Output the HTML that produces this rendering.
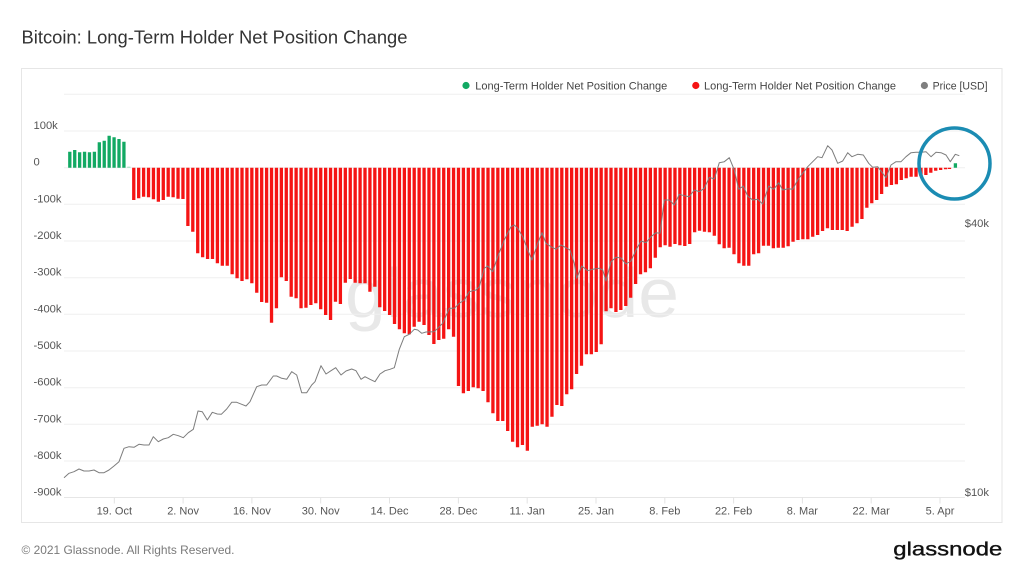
<!DOCTYPE html>
<html>
<head>
<meta charset="utf-8">
<style>
html,body{margin:0;padding:0;background:#fff;}
body{width:1024px;height:576px;overflow:hidden;}
svg{display:block;font-family:"Liberation Sans",sans-serif;}
</style>
</head>
<body>
<svg width="1024" height="576" viewBox="0 0 1024 576" xmlns="http://www.w3.org/2000/svg">
<rect x="0" y="0" width="1024" height="576" fill="#ffffff"/>
<text x="21.5" y="43.3" font-size="18" fill="#333333" textLength="386" lengthAdjust="spacingAndGlyphs">Bitcoin: Long-Term Holder Net Position Change</text>
<rect x="21.5" y="68.5" width="980.5" height="454" fill="#ffffff" stroke="#e6e6e6" stroke-width="1"/>

<!-- legend -->
<circle cx="466" cy="85.5" r="3.6" fill="#12a963"/>
<text x="475.3" y="89.3" font-size="11" fill="#444" textLength="192" lengthAdjust="spacingAndGlyphs">Long-Term Holder Net Position Change</text>
<circle cx="695.8" cy="85.5" r="3.6" fill="#f51414"/>
<text x="704" y="89.3" font-size="11" fill="#444" textLength="192" lengthAdjust="spacingAndGlyphs">Long-Term Holder Net Position Change</text>
<circle cx="924.4" cy="85.5" r="3.6" fill="#7f7f7f"/>
<text x="932.6" y="89.3" font-size="11" fill="#444" textLength="55" lengthAdjust="spacingAndGlyphs">Price [USD]</text>

<!-- watermark -->
<text x="345" y="317" font-size="70" fill="#e8e8e8" textLength="334" lengthAdjust="spacingAndGlyphs">glassnode</text>

<!-- gridlines -->
<g stroke="#efefef" stroke-width="1">
<line x1="64" y1="94.3" x2="965" y2="94.3"/>
<line x1="64" y1="131" x2="965" y2="131"/>
<line x1="64" y1="167.7" x2="965" y2="167.7"/>
<line x1="64" y1="204.3" x2="965" y2="204.3"/>
<line x1="64" y1="241" x2="965" y2="241"/>
<line x1="64" y1="277.7" x2="965" y2="277.7"/>
<line x1="64" y1="314.3" x2="965" y2="314.3"/>
<line x1="64" y1="351" x2="965" y2="351"/>
<line x1="64" y1="387.7" x2="965" y2="387.7"/>
<line x1="64" y1="424.3" x2="965" y2="424.3"/>
<line x1="64" y1="461" x2="965" y2="461"/>
</g>
<line x1="64" y1="497.5" x2="965" y2="497.5" stroke="#e6e6e6" stroke-width="1"/>
<g stroke="#e3e3e3" stroke-width="1">
<line x1="114.3" y1="497.5" x2="114.3" y2="503.5"/>
<line x1="183.1" y1="497.5" x2="183.1" y2="503.5"/>
<line x1="251.9" y1="497.5" x2="251.9" y2="503.5"/>
<line x1="320.7" y1="497.5" x2="320.7" y2="503.5"/>
<line x1="389.5" y1="497.5" x2="389.5" y2="503.5"/>
<line x1="458.4" y1="497.5" x2="458.4" y2="503.5"/>
<line x1="527.2" y1="497.5" x2="527.2" y2="503.5"/>
<line x1="596" y1="497.5" x2="596" y2="503.5"/>
<line x1="664.8" y1="497.5" x2="664.8" y2="503.5"/>
<line x1="733.6" y1="497.5" x2="733.6" y2="503.5"/>
<line x1="802.4" y1="497.5" x2="802.4" y2="503.5"/>
<line x1="871.2" y1="497.5" x2="871.2" y2="503.5"/>
<line x1="940" y1="497.5" x2="940" y2="503.5"/>
</g>

<!-- y labels -->
<g font-size="11.2" fill="#555">
<text x="33.5" y="129">100k</text>
<text x="33.5" y="165.7">0</text>
<text x="33.5" y="202.3">-100k</text>
<text x="33.5" y="239">-200k</text>
<text x="33.5" y="275.7">-300k</text>
<text x="33.5" y="312.3">-400k</text>
<text x="33.5" y="349">-500k</text>
<text x="33.5" y="385.7">-600k</text>
<text x="33.5" y="422.3">-700k</text>
<text x="33.5" y="459">-800k</text>
<text x="33.5" y="495.7">-900k</text>
</g>
<g font-size="11.2" fill="#555" text-anchor="end">
<text x="989" y="227">$40k</text>
<text x="989" y="496">$10k</text>
</g>
<!-- x labels -->
<g font-size="11" fill="#555" text-anchor="middle">
<text x="114.3" y="514.5">19. Oct</text>
<text x="183.1" y="514.5">2. Nov</text>
<text x="251.9" y="514.5">16. Nov</text>
<text x="320.7" y="514.5">30. Nov</text>
<text x="389.5" y="514.5">14. Dec</text>
<text x="458.4" y="514.5">28. Dec</text>
<text x="527.2" y="514.5">11. Jan</text>
<text x="596" y="514.5">25. Jan</text>
<text x="664.8" y="514.5">8. Feb</text>
<text x="733.6" y="514.5">22. Feb</text>
<text x="802.4" y="514.5">8. Mar</text>
<text x="871.2" y="514.5">22. Mar</text>
<text x="940" y="514.5">5. Apr</text>
</g>

<!-- green bars -->
<path fill="#12a963" d="M68.15 167.7V151.7h3.3V167.7z M73.07 167.7V150h3.3V167.7z M77.99 167.7V152.3h3.3V167.7z M82.91 167.7V151.7h3.3V167.7z M87.83 167.7V152.3h3.3V167.7z M92.75 167.7V151.7h3.3V167.7z M97.67 167.7V142.3h3.3V167.7z M102.59 167.7V140.7h3.3V167.7z M107.51 167.7V135.7h3.3V167.7z M112.43 167.7V137.3h3.3V167.7z M117.35 167.7V139h3.3V167.7z M122.27 167.7V141.7h3.3V167.7z M953.75 167.7V163.3h3.3V167.7z"/>
<path fill="#9fdcbd" d="M127.19 167.7V166.7h3.3V167.7z"/>

<!-- red bars -->
<path fill="#f51414" d="
M132.11 167.7V200h3.3V167.7z
M137.03 167.7V198.3h3.3V167.7z
M141.95 167.7V196.7h3.3V167.7z
M146.87 167.7V197.3h3.3V167.7z
M151.79 167.7V199.3h3.3V167.7z
M156.71 167.7V201.7h3.3V167.7z
M161.63 167.7V200h3.3V167.7z
M166.55 167.7V196.7h3.3V167.7z
M171.47 167.7V197.3h3.3V167.7z
M176.39 167.7V198.7h3.3V167.7z
M181.31 167.7V199h3.3V167.7z
M186.23 167.7V226h3.3V167.7z
M191.15 167.7V231.7h3.3V167.7z
M196.07 167.7V253.3h3.3V167.7z
M200.99 167.7V257.3h3.3V167.7z
M205.91 167.7V259h3.3V167.7z
M210.83 167.7V259h3.3V167.7z
M215.75 167.7V263.3h3.3V167.7z
M220.67 167.7V265.7h3.3V167.7z
M225.59 167.7V265.7h3.3V167.7z
M230.51 167.7V274.3h3.3V167.7z
M235.43 167.7V278.3h3.3V167.7z
M240.35 167.7V281h3.3V167.7z
M245.27 167.7V279.3h3.3V167.7z
M250.19 167.7V283.3h3.3V167.7z
M255.11 167.7V292.7h3.3V167.7z
M260.03 167.7V302h3.3V167.7z
M264.95 167.7V302.7h3.3V167.7z
M269.87 167.7V322.7h3.3V167.7z
M274.79 167.7V308.3h3.3V167.7z
M279.71 167.7V277.3h3.3V167.7z
M284.63 167.7V281h3.3V167.7z
M289.55 167.7V296.7h3.3V167.7z
M294.47 167.7V298.3h3.3V167.7z
M299.39 167.7V308.3h3.3V167.7z
M304.31 167.7V307.7h3.3V167.7z
M309.23 167.7V305h3.3V167.7z
M314.15 167.7V303.3h3.3V167.7z
M319.07 167.7V309.3h3.3V167.7z
M323.99 167.7V315h3.3V167.7z
M328.91 167.7V320h3.3V167.7z
M333.83 167.7V301.7h3.3V167.7z
M338.75 167.7V304h3.3V167.7z
M343.67 167.7V282.7h3.3V167.7z
M348.59 167.7V279h3.3V167.7z
M353.51 167.7V282.7h3.3V167.7z
M358.43 167.7V283.3h3.3V167.7z
M363.35 167.7V283.3h3.3V167.7z
M368.27 167.7V291.7h3.3V167.7z
M373.19 167.7V286.7h3.3V167.7z
M378.11 167.7V307.3h3.3V167.7z
M383.03 167.7V311h3.3V167.7z
M387.95 167.7V315h3.3V167.7z
M392.87 167.7V324h3.3V167.7z
M397.79 167.7V329.3h3.3V167.7z
M402.71 167.7V333.3h3.3V167.7z
M407.63 167.7V334.3h3.3V167.7z
M412.55 167.7V326.7h3.3V167.7z
M417.47 167.7V321.7h3.3V167.7z
M422.39 167.7V325h3.3V167.7z
M427.31 167.7V335h3.3V167.7z
M432.23 167.7V344h3.3V167.7z
M437.15 167.7V340h3.3V167.7z
M442.07 167.7V338.7h3.3V167.7z
M446.99 167.7V329.3h3.3V167.7z
M451.91 167.7V336.7h3.3V167.7z
M456.83 167.7V386h3.3V167.7z
M461.75 167.7V393.3h3.3V167.7z
M466.67 167.7V391h3.3V167.7z
M471.59 167.7V387.3h3.3V167.7z
M476.51 167.7V388.3h3.3V167.7z
M481.43 167.7V391h3.3V167.7z
M486.35 167.7V402.3h3.3V167.7z
M491.27 167.7V413.3h3.3V167.7z
M496.19 167.7V421h3.3V167.7z
M501.11 167.7V421h3.3V167.7z
M506.03 167.7V431h3.3V167.7z
M510.95 167.7V441.7h3.3V167.7z
M515.87 167.7V447.3h3.3V167.7z
M520.79 167.7V445h3.3V167.7z
M525.71 167.7V450.7h3.3V167.7z
M530.63 167.7V426.7h3.3V167.7z
M535.55 167.7V425.7h3.3V167.7z
M540.47 167.7V424.3h3.3V167.7z
M545.39 167.7V426.7h3.3V167.7z
M550.31 167.7V416.7h3.3V167.7z
M555.23 167.7V405h3.3V167.7z
M560.15 167.7V406h3.3V167.7z
M565.07 167.7V394.3h3.3V167.7z
M569.99 167.7V389.3h3.3V167.7z
M574.91 167.7V374h3.3V167.7z
M579.83 167.7V365.7h3.3V167.7z
M584.75 167.7V354.3h3.3V167.7z
M589.67 167.7V354.3h3.3V167.7z
M594.59 167.7V352h3.3V167.7z
M599.51 167.7V344.3h3.3V167.7z
M604.43 167.7V311.2h3.3V167.7z
M609.35 167.7V308.3h3.3V167.7z
M614.27 167.7V312h3.3V167.7z
M619.19 167.7V310h3.3V167.7z
M624.11 167.7V306h3.3V167.7z
M629.03 167.7V297.7h3.3V167.7z
M633.95 167.7V284h3.3V167.7z
M638.87 167.7V274.3h3.3V167.7z
M643.79 167.7V272.3h3.3V167.7z
M648.71 167.7V268.3h3.3V167.7z
M653.63 167.7V257.7h3.3V167.7z
M658.55 167.7V247.3h3.3V167.7z
M663.47 167.7V245.3h3.3V167.7z
M668.39 167.7V246.7h3.3V167.7z
M673.31 167.7V244h3.3V167.7z
M678.23 167.7V245.3h3.3V167.7z
M683.15 167.7V246h3.3V167.7z
M688.07 167.7V244h3.3V167.7z
M692.99 167.7V232.3h3.3V167.7z
M697.91 167.7V230.7h3.3V167.7z
M702.83 167.7V231.7h3.3V167.7z
M707.75 167.7V232.3h3.3V167.7z
M712.67 167.7V235.7h3.3V167.7z
M717.59 167.7V244.3h3.3V167.7z
M722.51 167.7V248.3h3.3V167.7z
M727.43 167.7V247.7h3.3V167.7z
M732.35 167.7V254.3h3.3V167.7z
M737.27 167.7V263.3h3.3V167.7z
M742.19 167.7V265.7h3.3V167.7z
M747.11 167.7V265.7h3.3V167.7z
M752.03 167.7V254.3h3.3V167.7z
M756.95 167.7V253.3h3.3V167.7z
M761.87 167.7V245.7h3.3V167.7z
M766.79 167.7V245.7h3.3V167.7z
M771.71 167.7V248.3h3.3V167.7z
M776.63 167.7V247.7h3.3V167.7z
M781.55 167.7V247.7h3.3V167.7z
M786.47 167.7V246.2h3.3V167.7z
M791.39 167.7V241.7h3.3V167.7z
M796.31 167.7V240h3.3V167.7z
M801.23 167.7V239.3h3.3V167.7z
M806.15 167.7V239.3h3.3V167.7z
M811.07 167.7V236.7h3.3V167.7z
M815.99 167.7V235h3.3V167.7z
M820.91 167.7V231h3.3V167.7z
M825.83 167.7V228.3h3.3V167.7z
M830.75 167.7V230h3.3V167.7z
M835.67 167.7V230h3.3V167.7z
M840.59 167.7V230h3.3V167.7z
M845.51 167.7V231h3.3V167.7z
M850.43 167.7V226.7h3.3V167.7z
M855.35 167.7V223.3h3.3V167.7z
M860.27 167.7V219h3.3V167.7z
M865.19 167.7V207.7h3.3V167.7z
M870.11 167.7V203.3h3.3V167.7z
M875.03 167.7V200h3.3V167.7z
M879.95 167.7V194h3.3V167.7z
M884.87 167.7V186.7h3.3V167.7z
M889.79 167.7V185h3.3V167.7z
M894.71 167.7V184.3h3.3V167.7z
M899.63 167.7V180h3.3V167.7z
M904.55 167.7V178.3h3.3V167.7z
M909.47 167.7V176.7h3.3V167.7z
M914.39 167.7V176.7h3.3V167.7z
M919.31 167.7V176h3.3V167.7z
M924.23 167.7V175h3.3V167.7z
M929.15 167.7V172.7h3.3V167.7z
M934.07 167.7V170.7h3.3V167.7z
M938.99 167.7V170h3.3V167.7z
M943.91 167.7V169.3h3.3V167.7z
M947.83 167.7V169h3.3V167.7z
"/>

<!-- price line -->
<polyline fill="none" stroke="#7d7d7d" stroke-width="1" stroke-linejoin="round" points="
64,477.7 69,473.3 74,471.7 79,469 84,471 89,471 94,470 99,472.7 104,472.7 109,470 114,466 119,461.7 124,448.3 129,446.7 134,447.3 139,444.3 144,445 149,445 153.3,436.7 158.3,441.7 163.3,439 168.3,437.7 173.3,434.3 178.3,435.7 183.3,437.7 188.3,432.7 193.3,429.3 198,411 202.3,411.7 207.3,420 212.3,412.3 217.3,414 221.3,414.3 226.7,409 231.7,402.3 236.7,402.3 241.7,404.3 246,406
250,401.7 256.7,386.7 261.7,385 266.7,385 273.3,376 276.7,376 281.7,378.3 286.7,379.3 291.7,371.7 296.7,375 301.7,392.7 306.7,392.7 311.7,385 315,381.7 321,365.7 326,374 331,370.7 335.7,367.7 341,375 346,371 351.7,369 356,370.7 361,379.3 365,376.7 370,379.3 375,381.7 380,374 385,370.7 390,369.3 394.3,367.7 399.3,349.3 404.3,336.7 409.3,334.3 414.3,329.3 417.7,330 421.7,333.3 426,332
434.3,331.7 442.7,323.3 449.3,308.3 454.3,308.3 459.3,303.3 464.3,300 469.3,291.7 476,290 479.3,286.7 484.3,268.3 487.7,266 492.7,271.7 497.7,256.7 504.3,240 511,226.7 514.3,225 517.7,228.3 522.7,236.7 527.7,250 532,260 537.7,243.3 542,232.7 546,243.3 551,246.7 556,249.3 561,245 565.3,247.3 570,250 574.3,263.3 576.7,278.3 581.7,266 587.7,270.7 592.7,269.3 599.3,268.3 602.7,270 606,281
611,261.7 616,257.3 621,258 626,264 631,261 636,250 641,241 646,242.7 651,236.7 656,232.7 660,233.3 664.3,200 669.3,200 674.3,205 679.3,194.3 684.3,195.7 689.3,196.7 694.3,190 699.3,191.7 704.3,188.3 709.3,177.3 714.3,179 719.3,162.7 724.3,161.7 729.3,157.7 734.3,170 738.7,189.3 743.3,186 747.7,196 752.7,200 757.7,199.3 762.7,204 768.7,186 773.7,189.3 778.7,182.7 782.7,190 788,188.8
792.7,189.3 797.7,180 802.7,173.3 807.7,166.7 812.7,161.7 817.7,156.7 822,157.7 827.7,145.7 832,150 837.7,163.3 842.7,161 847.7,152.7 852,156.7 857.7,154.3 863.3,155 868.7,163.3 872.7,167.3 877.7,166.7 882.7,173.3 886,177.7 891,165 896,161.7 901,161.7 906,156.7 911,152.7 916,152.3 921,152.3 926,151.7 931,156.7 936,152.3 941,152.7 946,155 950.3,161.7 955.3,154.3 959.3,155.7"/>

<!-- highlight circle -->
<circle cx="954.5" cy="163.5" r="35.5" fill="none" stroke="#1b8cb3" stroke-width="3.5"/>

<!-- footer -->
<text x="21.5" y="554.2" font-size="12" fill="#7a7a7a" textLength="213" lengthAdjust="spacingAndGlyphs">© 2021 Glassnode. All Rights Reserved.</text>
<text x="893.3" y="555.3" font-size="19" fill="#111" stroke="#111" stroke-width="0.35" textLength="109" lengthAdjust="spacingAndGlyphs">glassnode</text>
</svg>
</body>
</html>
